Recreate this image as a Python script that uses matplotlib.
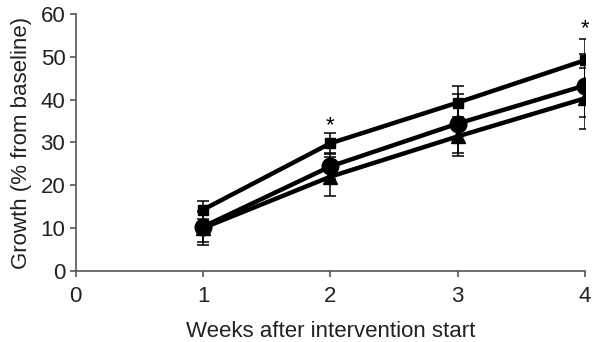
import numpy as np
import matplotlib.pyplot as plt

plt.rcParams['font.family'] = ['Liberation Sans', 'DejaVu Sans']

# data
weeks = [1, 2, 3, 4]
square_mean = [14.3, 29.8, 39.3, 49.2]
square_err = [2.1, 2.3, 3.8, 5.0]
circle_mean = [10.3, 24.4, 34.4, 43.3]
circle_err = [3.5, 3.0, 6.8, 7.4]
triangle_mean = [10.0, 22.0, 31.4, 40.3]
triangle_err = [4.0, 4.5, 4.5, 7.2]
star_weeks = [2, 4]
star_y = [34.0, 56.5]

fig = plt.figure(figsize=(5.92, 3.42), dpi=100)
ax = fig.add_axes([0.128, 0.208, 0.86, 0.751])

series = [
    (triangle_mean, triangle_err, '^', 10),
    (circle_mean, circle_err, 'o', 12),
    (square_mean, square_err, 's', 7.5),
]
for mean, err, mk, ms in series:
    ax.plot(weeks, mean, color='black', lw=3.2, marker=mk, ms=ms, zorder=3)
    ax.errorbar(weeks, mean, yerr=err, fmt='none', ecolor='black',
                elinewidth=1.1, capsize=4, capthick=1.1, zorder=4)

for w, y in zip(star_weeks, star_y):
    ax.text(w, y, '*', ha='center', va='center', fontsize=16)

ax.set_xlim(0, 4)
ax.set_ylim(0, 60)
ax.set_xticks([0, 1, 2, 3, 4])
ax.set_yticks(np.arange(0, 61, 10))
ax.spines['top'].set_visible(False)
ax.spines['right'].set_visible(False)
for s in ['left', 'bottom']:
    ax.spines[s].set_color('#555555')
    ax.spines[s].set_linewidth(1.2)
ax.tick_params(colors='#555555', labelcolor='#222222', labelsize=16,
               length=4, width=1.2)
ax.tick_params(axis='x', pad=7)
ax.set_xlabel('Weeks after intervention start', fontsize=16, labelpad=10,
              color='#222222')
ax.set_ylabel('Growth (% from baseline)', fontsize=16, labelpad=6,
              color='#222222')

fig.savefig('out.png', dpi=100)
